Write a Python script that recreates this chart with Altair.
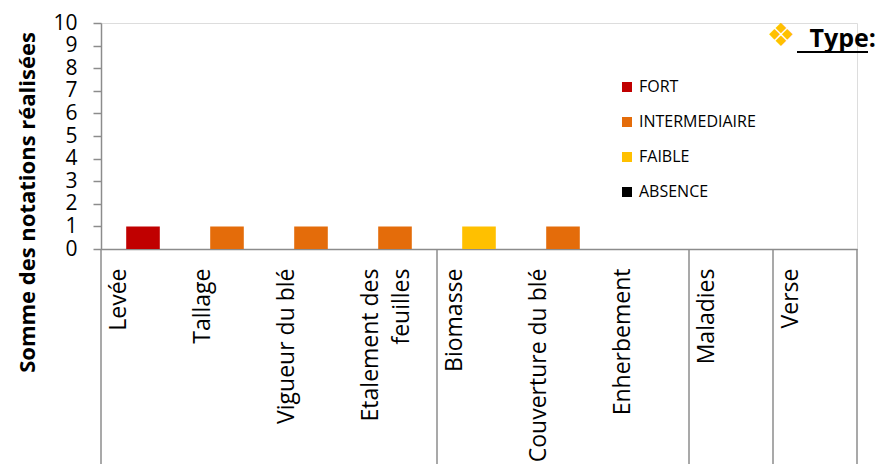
import altair as alt
import pandas as pd

categories = ["Levée", "Tallage", "Vigueur du blé", "Etalement des feuilles",
              "Biomasse", "Couverture du blé", "Enherbement", "Maladies", "Verse"]
values = [1, 1, 1, 1, 1, 1, 0, 0, 0]
types = ["FORT", "INTERMEDIAIRE", "INTERMEDIAIRE", "INTERMEDIAIRE",
         "FAIBLE", "INTERMEDIAIRE", "ABSENCE", "ABSENCE", "ABSENCE"]
type_levels = ["FORT", "INTERMEDIAIRE", "FAIBLE", "ABSENCE"]
type_colors = ["#C00000", "#E46C0A", "#FFC000", "#000000"]
group_starts = ["Levée", "Biomasse", "Maladies", "Verse"]
group_end = ["Verse"]
y_ticks = list(range(0, 11))

FONT = "Open Sans"
GRAY = "#8C8C8C"
W, H = 756, 226

df = pd.DataFrame({"cat": categories, "val": values, "type": types})
df_bars = df[df["val"] > 0]

xscale = alt.Scale(domain=categories, paddingInner=0, paddingOuter=0)

bars = alt.Chart(df_bars).mark_bar(width=alt.RelativeBandSize(0.4)).encode(
    x=alt.X("cat:N", scale=xscale, sort=categories,
            axis=alt.Axis(title=None, labelAngle=270, labelAlign="right",
                          labelBaseline="top", labelOffset=-35, labelPadding=19,
                          labelFont=FONT, labelFontSize=23, labelColor="#000000",
                          labelLineHeight=31, ticks=False, domainColor=GRAY,
                          domainWidth=1.5, labelLimit=400,
                          labelExpr="datum.value == 'Etalement des feuilles' ? ['Etalement des', 'feuilles'] : datum.value")),
    y=alt.Y("val:Q", scale=alt.Scale(domain=[0, 10], nice=False),
            axis=alt.Axis(title="Somme des notations réalisées", values=y_ticks,
                          grid=False, tickSize=8, tickColor=GRAY, tickWidth=1.5,
                          domainColor=GRAY, domainWidth=1.5,
                          labelFont=FONT, labelFontSize=21, labelColor="#000000",
                          labelPadding=16,
                          titleFont=FONT, titleFontSize=22, titleFontWeight="bold",
                          titleColor="#000000", titleX=-74, titleY=179,
                          titleAngle=270, titleAlign="center", titleBaseline="middle")),
    color=alt.Color("type:N", scale=alt.Scale(domain=type_levels, range=type_colors),
                    legend=alt.Legend(title=None, orient="none", legendX=518, legendY=56,
                                      symbolType="square", symbolSize=100,
                                      symbolStrokeWidth=0, labelFont=FONT,
                                      labelFontSize=16, labelColor="#000000",
                                      rowPadding=19, labelOffset=4, padding=0)),
)

df_start = pd.DataFrame({"cat": group_starts})
df_end = pd.DataFrame({"cat": group_end})

div_start = alt.Chart(df_start).mark_rule(color=GRAY, strokeWidth=1.5).encode(
    x=alt.X("cat:N", scale=xscale, sort=categories, bandPosition=0),
    y=alt.value(H), y2=alt.value(H + 215),
)
div_end = alt.Chart(df_end).mark_rule(color=GRAY, strokeWidth=1.5).encode(
    x=alt.X("cat:N", scale=xscale, sort=categories, bandPosition=1),
    y=alt.value(H), y2=alt.value(H + 215),
)

hdr = pd.DataFrame({"t": ["Type:"]})
type_text = alt.Chart(hdr).mark_text(font=FONT, fontSize=25, fontWeight="bold",
                                     align="right", baseline="alphabetic",
                                     color="#000000").encode(
    text="t:N", x=alt.value(775), y=alt.value(24))
underline = alt.Chart(hdr).mark_rule(color="#000000", strokeWidth=2).encode(
    x=alt.value(696), x2=alt.value(767), y=alt.value(29))
diamond = alt.Chart(pd.DataFrame({"t": ["❖"]})).mark_text(
    font="DejaVu Sans", fontSize=32, color="#FFC000", align="center",
    baseline="middle").encode(text="t:N", x=alt.value(680), y=alt.value(13))

chart = alt.layer(bars, div_start, div_end, underline, type_text, diamond).properties(
    width=W, height=H,
    autosize=alt.AutoSizeParams(type="none"),
    padding={"left": 93, "top": 15, "right": 20, "bottom": 215},
).configure_view(stroke=None).configure(font=FONT)

chart.save("out.html", embed_options={"renderer": "svg", "actions": False})
